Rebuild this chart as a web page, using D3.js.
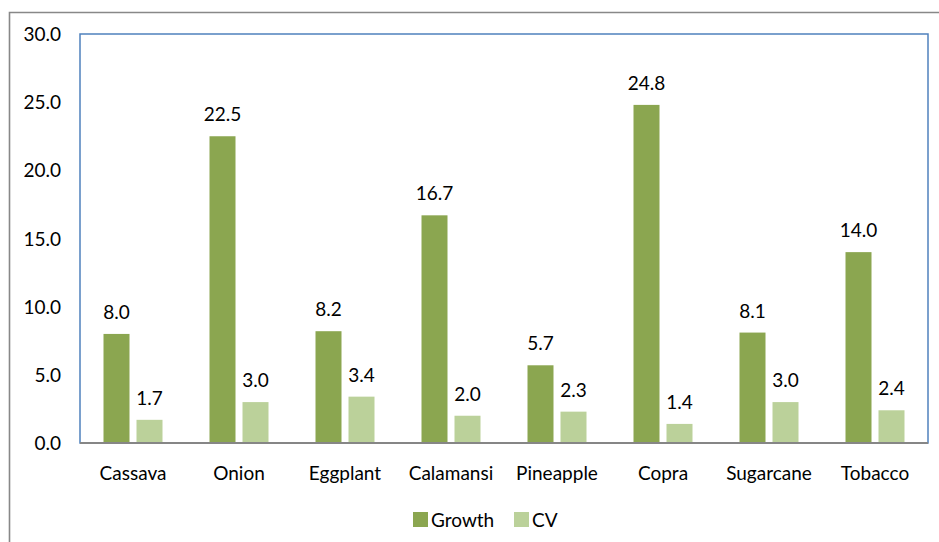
<!DOCTYPE html>
<html><head><meta charset="utf-8">
<script src="https://cdn.jsdelivr.net/npm/d3@7"></script>
<style>body{margin:0;background:#fff}svg{display:block}text{font-family:Lato,sans-serif;fill:#000}</style>
</head><body><svg id="c" width="939" height="542"></svg>
<script>
const categories = ["Cassava","Onion","Eggplant","Calamansi","Pineapple","Copra","Sugarcane","Tobacco"];
const growth = [8.0,22.5,8.2,16.7,5.7,24.8,8.1,14.0];
const cv = [1.7,3.0,3.4,2.0,2.3,1.4,3.0,2.4];
const seriesNames = ["Growth","CV"];
const yTicks = [0,5,10,15,20,25,30];
const colors = {Growth:"#8BA650", CV:"#BBD19A"};
const FS = 19;

const svg = d3.select("#c");
const L=80, R=928, T=34, B=443;
svg.append("path").attr("d","M9.5,542 L9.5,12.5 L939,12.5").attr("fill","none").attr("stroke","#888").attr("stroke-width",1.6);

const x0 = d3.scaleBand().domain(categories).range([L,R]);
const x1 = d3.scaleBand().domain(seriesNames).range([23.5,82.5]).paddingInner(0.2121);
const y = d3.scaleLinear().domain([0,30]).range([B,T]);

svg.append("rect").attr("x",L).attr("y",T).attr("width",R-L).attr("height",B-T)
  .attr("fill","none").attr("stroke","#4F81BD").attr("stroke-width",1.5);

const data = categories.map((c,i)=>({cat:c, vals:[{k:"Growth",v:growth[i]},{k:"CV",v:cv[i]}]}));
const g = svg.selectAll("g.cat").data(data).join("g").attr("transform",d=>`translate(${x0(d.cat)},0)`);
g.selectAll("rect").data(d=>d.vals).join("rect")
  .attr("x",d=>x1(d.k)).attr("width",x1.bandwidth())
  .attr("y",d=>y(d.v)).attr("height",d=>B-y(d.v)).attr("fill",d=>colors[d.k]);
g.selectAll("text.val").data(d=>d.vals).join("text").attr("class","val")
  .attr("x",d=>x1(d.k)+x1.bandwidth()/2).attr("y",d=>y(d.v)-15)
  .attr("text-anchor","middle").attr("font-size",FS).text(d=>d.v.toFixed(1));

svg.append("line").attr("x1",L).attr("x2",R).attr("y1",B).attr("y2",B).attr("stroke","#868686").attr("stroke-width",2);

const yAxis = d3.axisLeft(y).tickValues(yTicks).tickSize(0).tickPadding(19).tickFormat(d3.format(".1f"));
const ya = svg.append("g").attr("transform",`translate(${L},0)`).call(yAxis);
ya.select(".domain").remove();
ya.selectAll("text").attr("font-size",FS).attr("font-family","Lato").attr("fill","#000").attr("dy","0.35em");

const xAxis = d3.axisBottom(x0).tickSize(0).tickPadding(24);
const xa = svg.append("g").attr("transform",`translate(0,${B})`).call(xAxis);
xa.select(".domain").remove();
xa.selectAll("text").attr("font-size",FS).attr("font-family","Lato").attr("fill","#000");

const leg = [{k:"Growth",x:413},{k:"CV",x:514}];
const lg = svg.selectAll("g.leg").data(leg).join("g").attr("class","leg");
lg.append("rect").attr("x",d=>d.x).attr("y",512).attr("width",15).attr("height",15).attr("fill",d=>colors[d.k]);
lg.append("text").attr("x",d=>d.x+18).attr("y",527).attr("font-size",FS).text(d=>d.k);
</script></body></html>
